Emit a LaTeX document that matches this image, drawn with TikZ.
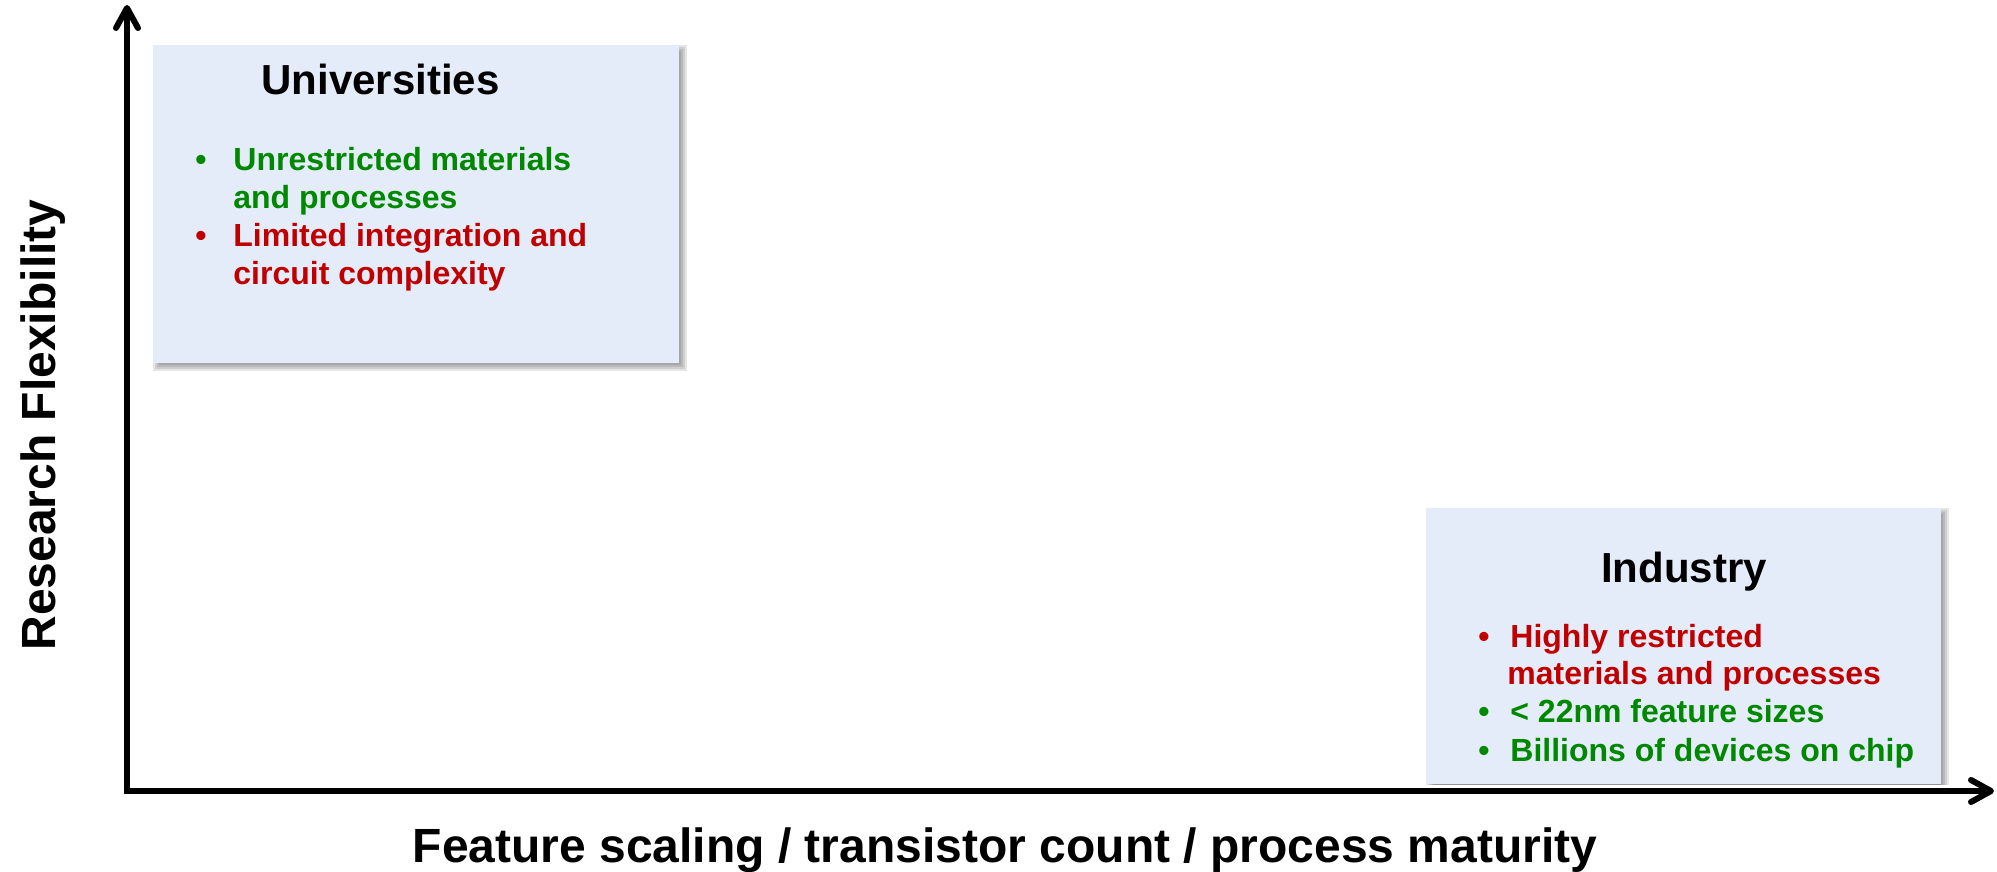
\documentclass[tikz,border=0pt]{standalone}
\usepackage{fontspec}
\setmainfont{Liberation Sans}
\usetikzlibrary{arrows.meta}

\definecolor{okgreen}{RGB}{0,136,0}
\definecolor{badred}{RGB}{192,0,0}
\definecolor{panel}{RGB}{227,236,248}

% soft drop shadow below a rectangle given by its corners (x1,y1) (x2,y2)
\newcommand\panelshadow[4]{%
  \foreach \g in {-4,-2,0,2,4}{%
    \fill[black, opacity=0.1] ({#1+4-\g},{#2+4-\g}) rectangle ({#3+4+\g},{#4+4+\g});
  }%
}

\begin{document}
\begin{tikzpicture}[x=0.5pt, y=-0.5pt,
  panelbox/.style={fill=panel, draw=none},
  boxtitle/.style={font=\fontsize{21}{25}\selectfont\bfseries, inner sep=0pt},
  item/.style={font=\fontsize{16}{19}\selectfont\bfseries, inner sep=0pt, anchor=base west},
  bulletmark/.style={font=\fontsize{16}{19}\selectfont\bfseries, inner sep=0pt, anchor=base},
  axislabel/.style={font=\fontsize{24}{28}\selectfont\bfseries, inner sep=0pt, anchor=base},
  axisline/.style={line width=3pt,
    {Straight Barb[length=10pt, width=11pt, round]}-{Straight Barb[length=10pt, width=11pt, round]}},
]
\useasboundingbox (0,0) rectangle (1997,872);

% Universities panel
\panelshadow{153}{45}{679}{363}
\path[panelbox] (153,45) rectangle (679,363);
\node[boxtitle, anchor=base west] (utitle) at (261,95) {Universities};
\node[bulletmark, text=okgreen] (ub1) at (201,170) {\textbullet};
\node[item, text=okgreen] (u1a) at (233,170) {Unrestricted materials};
\node[item, text=okgreen] (u1b) at (233,208) {and processes};
\node[bulletmark, text=badred] (ub2) at (201,246) {\textbullet};
\node[item, text=badred] (u2a) at (233,246) {Limited integration and};
\node[item, text=badred] (u2b) at (233,284) {circuit complexity};

% Industry panel (its lower edge stops just above the horizontal axis)
\begin{scope}
  \clip (0,0) rectangle (1997,784);
  \panelshadow{1426}{508}{1941}{790}
\end{scope}
\path[panelbox] (1426,508) rectangle (1941,784);
\node[boxtitle, anchor=base] (ititle) at (1684,582) {Industry};
\node[bulletmark, text=badred] (ib1) at (1484,647) {\textbullet};
\node[item, text=badred] (i1a) at (1510,647) {Highly restricted};
\node[item, text=badred] (i1b) at (1507,684) {materials and processes};
\node[bulletmark, text=okgreen] (ib2) at (1484,722) {\textbullet};
\node[item, text=okgreen] (i2) at (1510,722) {< 22nm feature sizes};
\node[bulletmark, text=okgreen] (ib3) at (1484,761) {\textbullet};
\node[item, text=okgreen] (i3) at (1510,761) {Billions of devices on chip};

% Axes
\coordinate (ytop) at (127,5);
\coordinate (origin) at (127,791);
\coordinate (xend) at (1994,791);
\draw[axisline] (ytop) -- (origin) -- (xend);

% Axis labels
\node[axislabel] (xlabel) at (1005,862) {Feature scaling / transistor count / process maturity};
\node[axislabel, rotate=90] (ylabel) at (55,425) {Research Flexibility};
\end{tikzpicture}
\end{document}
